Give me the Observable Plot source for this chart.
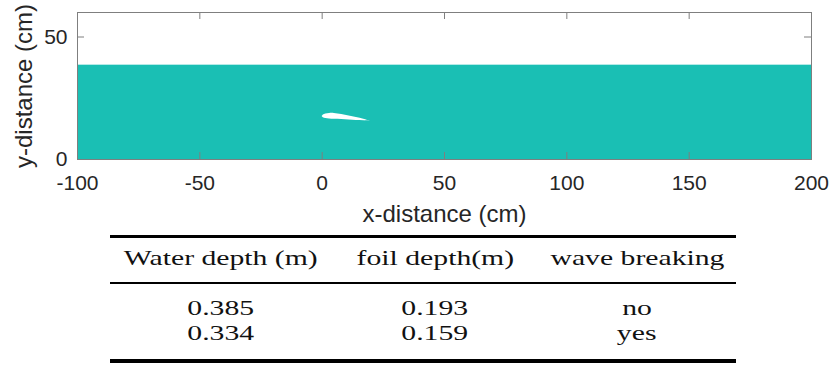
<!DOCTYPE html>
<html><head><meta charset="utf-8">
<script src="https://cdn.jsdelivr.net/npm/d3@7"></script>
<script src="https://cdn.jsdelivr.net/npm/@observablehq/plot@0.6"></script>
<style>
html,body{margin:0;padding:0;background:#fff}
body{width:832px;height:371px;overflow:hidden;position:relative}
#chart{position:absolute;left:0;top:0}
#tbl{position:absolute;left:110px;top:235px;border-collapse:collapse;font-family:"Liberation Serif",serif;font-size:22px;color:#111}
#tbl th,#tbl td{text-align:center;font-weight:normal;padding:0;line-height:25px;white-space:nowrap}
#tbl span{display:inline-block;transform:scaleX(1.35)}
#tbl thead tr{border-top:3px solid #000;border-bottom:2px solid #000}
#tbl thead th{padding-top:7px;padding-bottom:12px}
#tbl tbody tr:first-child td{padding-top:11px}
#tbl tbody tr:last-child td{padding-bottom:14px}
#tbl tbody tr:last-child{border-bottom:4px solid #000}
</style></head><body>
<div id="chart"></div>
<table id="tbl"><colgroup><col style="width:222px"><col style="width:206px"><col style="width:198px"></colgroup><thead></thead><tbody></tbody></table>
<script>
// axis ticks
const xTicks = [-100, -50, 0, 50, 100, 150, 200];
const yTicks = [0, 50];
// tank extent (cm) and water depth (cm)
const tankX = [-100, 200];
const waterDepthCm = 38.5;
// foil outline (cm)
const foilX     = [0,    0.5,  1.5,  3,    5,    8,    11,   14,   17,   19.7];
const foilUpper = [17.6, 18.2, 18.6, 18.8, 18.8, 18.4, 17.8, 17.1, 16.4, 15.6];
const foilLower = [17.6, 17.0, 16.7, 16.5, 16.4, 16.3, 16.1, 15.9, 15.8, 15.6];
// table
const tableHeaders = ["Water depth (m)", "foil depth(m)", "wave breaking"];
const waterDepth = ["0.385", "0.334"];
const foilDepth = ["0.193", "0.159"];
const waveBreaking = ["no", "yes"];

const foil = foilX.map((x, i) => ({x, y1: foilLower[i], y2: foilUpper[i]}));
const water = [{x1: tankX[0], x2: tankX[1], y1: 0, y2: waterDepthCm}];
const axisColor = "#7f7f7f";
const fmt = d => String(d);

const plot = Plot.plot({
  width: 832, height: 228,
  marginLeft: 77, marginRight: 21, marginTop: 12, marginBottom: 69,
  x: {domain: [-100, 200]},
  y: {domain: [0, 60]},
  style: {fontFamily: "'Liberation Sans', Arial, sans-serif", color: "#262626", background: "white", overflow: "visible"},
  marks: [
    Plot.rect(water, {x1: "x1", x2: "x2", y1: "y1", y2: "y2", fill: "#1abfb4"}),
    Plot.areaY(foil, {x: "x", y1: "y1", y2: "y2", fill: "white", curve: "catmull-rom"}),
    Plot.frame({stroke: axisColor}),
    Plot.tickX(xTicks, {x: d => d, stroke: axisColor, insetTop: 140}),
    Plot.tickX(xTicks, {x: d => d, stroke: axisColor, insetBottom: 140}),
    Plot.tickY(yTicks, {y: d => d, stroke: axisColor, insetRight: 727}),
    Plot.tickY(yTicks, {y: d => d, stroke: axisColor, insetLeft: 727}),
    Plot.axisX(xTicks, {tickSize: 0, tickPadding: 16, fontSize: 21, tickFormat: fmt, label: null}),
    Plot.axisY(yTicks, {tickSize: 0, tickPadding: 10, fontSize: 21, tickFormat: fmt, label: null}),
    Plot.text(["x-distance (cm)"], {frameAnchor: "bottom", textAnchor: "middle", lineAnchor: "middle", dy: 55, fontSize: 24, fill: "#262626"}),
    Plot.text(["y-distance (cm)"], {frameAnchor: "left", textAnchor: "middle", lineAnchor: "middle", rotate: -90, dx: -53, fontSize: 24, fill: "#262626"})
  ]
});
document.getElementById("chart").appendChild(plot);

const thead = d3.select("#tbl thead").append("tr");
thead.selectAll("th").data(tableHeaders).join("th").append("span").text(d => d);
const rows = waterDepth.map((w, i) => [w, foilDepth[i], waveBreaking[i]]);
d3.select("#tbl tbody").selectAll("tr").data(rows).join("tr")
  .selectAll("td").data(d => d).join("td").append("span").text(d => d);
</script>
</body></html>
